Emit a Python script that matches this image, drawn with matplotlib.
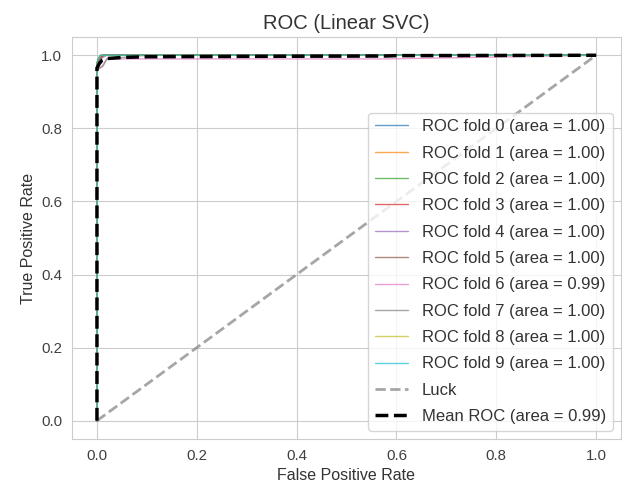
import matplotlib
matplotlib.use("Agg")
import matplotlib.pyplot as plt
import seaborn as sns

sns.set_style("whitegrid")
plt.rcParams['font.family'] = ['Liberation Sans', 'DejaVu Sans']

fold_fpr = [
    [0.0, 0.0, 0.004, 0.008, 1.0],
    [0.0, 0.0, 0.003, 0.010, 1.0],
    [0.0, 0.0, 0.005, 0.012, 1.0],
    [0.0, 0.0, 0.004, 0.015, 1.0],
    [0.0, 0.0, 0.006, 0.020, 1.0],
    [0.0, 0.0, 0.005, 0.010, 1.0],
    [0.0, 0.0, 0.010, 0.020, 0.58, 1.0],
    [0.0, 0.0, 0.012, 0.020, 0.10, 1.0],
    [0.0, 0.0, 0.003, 0.008, 1.0],
    [0.0, 0.0, 0.002, 0.006, 1.0],
]
fold_tpr = [
    [0.0, 0.97, 0.99, 1.0, 1.0],
    [0.0, 0.98, 0.99, 1.0, 1.0],
    [0.0, 0.97, 0.985, 1.0, 1.0],
    [0.0, 0.96, 0.99, 1.0, 1.0],
    [0.0, 0.97, 0.99, 1.0, 1.0],
    [0.0, 0.98, 0.995, 1.0, 1.0],
    [0.0, 0.96, 0.97, 0.99, 0.99, 1.0],
    [0.0, 0.96, 0.97, 0.99, 1.0, 1.0],
    [0.0, 0.98, 0.99, 1.0, 1.0],
    [0.0, 0.97, 0.99, 1.0, 1.0],
]
fold_auc = [1.00, 1.00, 1.00, 1.00, 1.00, 1.00, 0.99, 1.00, 1.00, 1.00]

mean_fpr = [0.0, 0.0, 0.005, 0.01, 0.02, 0.05, 0.1, 0.3, 0.58, 0.6, 1.0]
mean_tpr = [0.0, 0.965, 0.978, 0.986, 0.991, 0.994, 0.996, 0.997, 0.998, 0.999, 1.0]
mean_auc = 0.99

luck_x = [0, 1]
luck_y = [0, 1]

colors = plt.rcParams['axes.prop_cycle'].by_key()['color']

fig = plt.figure(figsize=(6.22, 4.92), dpi=100)
ax = fig.add_axes([72/622, 1 - 439/492, 549/622, (439-37)/492])

for i in range(10):
    ax.plot(fold_fpr[i], fold_tpr[i], lw=1, alpha=0.7, color=colors[i % len(colors)],
            label='ROC fold %d (area = %0.2f)' % (i, fold_auc[i]))

ax.plot(luck_x, luck_y, linestyle='--', lw=2, color='grey', alpha=0.7, label='Luck')
ax.plot(mean_fpr, mean_tpr, color='k', linestyle='--', lw=2.5,
        label='Mean ROC (area = %0.2f)' % mean_auc)

ax.set_xlim(-0.05, 1.05)
ax.set_ylim(-0.05, 1.05)
ax.set_xticks([0.0, 0.2, 0.4, 0.6, 0.8, 1.0])
ax.set_yticks([0.0, 0.2, 0.4, 0.6, 0.8, 1.0])
ax.tick_params(labelsize=10.8, colors='.25')
ax.set_xlabel('False Positive Rate', fontsize=11.5, color='.2')
ax.set_ylabel('True Positive Rate', fontsize=11.5, color='.2')
ax.set_title('ROC (Linear SVC)', fontsize=14.5, color='.2')
leg = ax.legend(loc='lower right', fontsize=12, labelspacing=0.68,
                borderaxespad=0.5)
for t in leg.get_texts():
    t.set_color('.2')

fig.savefig('out.png', dpi=100)
